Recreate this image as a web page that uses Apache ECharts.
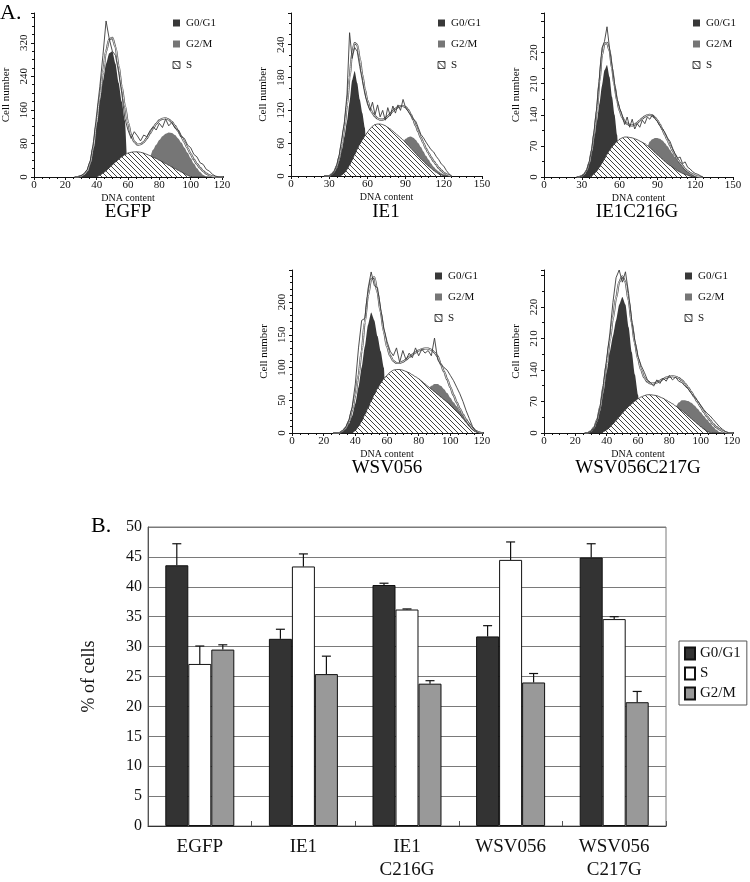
<!DOCTYPE html>
<html><head><meta charset="utf-8">
<script src="https://cdn.jsdelivr.net/npm/echarts@6/dist/echarts.min.js"></script>
<style>html,body{margin:0;padding:0;background:#fff}#c{width:750px;height:882px}</style>
</head><body><div id="c"></div>
<script>
// ---------- Panel A data (DNA content bins, cell numbers) ----------
const dnaContent = [26,28,30,32,34,36,38,40,42,44,46,48,50,52,54,56,58,60,62,64,66,68,70,72,74,76,78,80,82,84,86,88,90,92,94,96,98,100,102,104,106,108,110,112,114,116,118,120,122,124,126];

const egfpG1  = [0,0,2,5,12,30,65,125,180,228, 270,295,300,270,225,180,135,0,0,0, 0,0,0,0,0,0,0,0,0,0, 0,0,0,0,0,0,0,0,0,0, 0,0,0,0,0,0,0,0,0,0,0];
const egfpS   = [0,0,0,0,0,0,0,0,4,9, 15,22,29,36,42,48,53,57,59,60, 60,59,57,54,51,47,44,40,36,32, 28,24,20,16,12,8,4,1,0,0, 0,0,0,0,0,0,0,0,0,0,0];
const egfpG2  = [0,0,0,0,0,0,0,0,0,0, 0,0,0,0,0,0,0,0,0,0, 0,0,0,0,48,65,77,88,97,103, 106,105,100,92,82,70,58,45,32,21, 12,5,1,0,0,0,0,0,0,0,0];
const egfpFit = [0,0,2,6,14,35,72,130,190,250, 300,328,332,310,265,215,170,130,100,84, 77,78,83,92,104,116,127,135,139,140, 137,131,122,110,97,83,69,55,42,31, 22,14,8,4,1,0,0,0,0,0,0];
const egfpRaw = [0,0,3,8,18,40,85,150,215,290, 372,330,300,290,250,200,140,112,92,108, 98,86,100,96,110,120,112,128,118,138, 122,130,116,112,96,92,76,70,54,48, 34,30,18,14,6,2,0,0,0,0,0];

const ie1G1  = [0,0,0,2,6,14,28,48,72,100, 135,175,192,170,140,115,88,0,0,0, 0,0,0,0,0,0,0,0,0,0, 0,0,0,0,0,0,0,0,0,0, 0,0,0,0,0,0,0,0,0,0,0];
const ie1S   = [0,0,0,0,0,0,0,2,6,12, 20,29,39,49,58,66,73,80,86,91, 94,95,95,94,92,89,86,82,78,74, 70,66,61,56,51,46,41,36,31,27, 22,18,14,10,7,4,2,0,0,0,0];
const ie1G2  = [0,0,0,0,0,0,0,0,0,0, 0,0,0,0,0,0,0,0,0,0, 0,0,0,0,0,0,0,0,0,0, 0,62,68,71,72,70,66,60,53,45, 37,30,23,17,12,8,5,3,1,0,0];
const ie1Fit = [0,0,0,3,8,18,35,60,90,130, 180,225,243,240,215,185,158,138,124,115, 109,105,103,103,105,109,114,119,123,126, 128,128,126,121,113,103,92,81,70,60, 50,42,34,27,21,15,10,6,3,1,0];
const ie1Raw = [0,0,0,3,8,20,40,70,100,150, 262,215,235,228,200,175,150,132,120,135, 112,130,108,120,102,125,110,128,115,130, 120,140,125,118,112,104,100,88,76,70, 62,55,48,44,36,30,22,18,10,4,0];

const ie1cG1  = [0,0,2,6,14,30,55,88,125,165, 205,240,252,225,180,140,95,0,0,0, 0,0,0,0,0,0,0,0,0,0, 0,0,0,0,0,0,0,0,0,0, 0,0,0,0,0,0,0,0,0,0,0];
const ie1cS   = [0,0,0,0,0,0,3,8,14,22, 31,41,51,60,68,75,80,85,88,90, 90,89,88,86,84,81,78,75,71,66, 61,55,50,45,40,35,30,26,22,18, 14,11,8,6,4,2,0,0,0,0,0];
const ie1cG2  = [0,0,0,0,0,0,0,0,0,0, 0,0,0,0,0,0,0,0,0,0, 0,0,0,0,0,0,0,0,68,80, 85,88,88,86,82,76,69,61,53,45, 37,30,23,17,12,8,5,2,0,0,0];
const ie1cFit = [0,0,2,6,15,32,60,100,150,215, 275,300,302,285,245,205,172,150,135,125, 120,117,116,118,122,127,132,136,139,140, 138,134,127,118,107,95,83,71,60,50, 40,32,25,18,13,9,6,3,1,0,0];
const ie1cRaw = [0,0,2,7,16,35,65,110,160,225, 290,305,338,290,250,210,175,155,140,118, 135,112,130,108,120,112,128,120,135,130, 140,132,125,115,108,100,88,80,65,52, 42,45,30,34,22,18,12,8,6,3,0];

const wsvG1  = [0,0,0,2,6,14,26,45,70,100, 132,165,184,172,148,125,100,0,0,0, 0,0,0,0,0,0,0,0,0,0, 0,0,0,0,0,0,0,0,0,0, 0,0,0,0,0,0,0,0,0,0,0];
const wsvS   = [0,0,0,0,0,0,0,4,10,18, 28,38,49,59,68,76,83,88,93,96, 97,97,96,94,92,89,86,83,79,75, 71,67,63,59,55,51,47,43,38,33, 28,22,16,10,5,2,0,0,0,0,0];
const wsvG2  = [0,0,0,0,0,0,0,0,0,0, 0,0,0,0,0,0,0,0,0,0, 0,0,0,0,0,0,0,0,0,0, 66,72,75,75,72,67,61,54,47,41, 34,28,22,16,10,5,2,0,0,0,0];
const wsvFit = [0,0,0,3,8,18,35,58,88,125, 170,210,235,238,215,185,155,132,118,110, 107,107,109,112,116,120,123,126,128,129, 129,127,123,117,105,94,82,70,58,47, 37,28,20,13,7,3,1,0,0,0,0];
const wsvRaw = [0,0,0,3,9,20,40,75,130,172, 175,220,246,225,222,190,160,140,125,118, 130,108,126,112,122,115,130,118,128,122, 126,118,145,112,105,100,96,88,80,70, 60,48,34,22,10,3,0,0,0,0,0];

const wsvcG1  = [0,0,3,10,25,50,90,135,180,215, 250,285,302,285,235,180,130,85,0,0, 0,0,0,0,0,0,0,0,0,0, 0,0,0,0,0,0,0,0,0,0, 0,0,0,0,0,0,0,0,0,0,0];
const wsvcS   = [0,0,0,0,0,0,3,7,13,20, 28,36,44,52,59,65,71,76,80,83, 85,85,84,83,80,77,73,69,65,60, 55,50,44,38,32,26,20,14,9,4, 1,0,0,0,0,0,0,0,0,0,0];
const wsvcG2  = [0,0,0,0,0,0,0,0,0,0, 0,0,0,0,0,0,0,0,0,0, 0,0,0,0,0,0,0,0,0,58, 68,73,73,71,67,61,54,46,38,30, 22,14,7,2,0,0,0,0,0,0,0];
const wsvcFit = [0,0,4,12,30,60,105,155,205,255, 300,335,348,335,295,245,200,165,140,123, 114,110,110,112,116,120,123,125,126,125, 122,117,110,101,91,80,69,58,47,37, 28,20,13,8,4,1,0,0,0,0,0];
const wsvcRaw = [0,0,4,12,30,62,110,165,220,290, 345,362,335,358,310,250,205,170,150,135, 118,112,104,118,110,122,115,128,118,124, 115,112,104,98,88,80,72,62,52,44, 38,30,22,14,8,3,0,0,0,0,0];

const panelTitles = ['EGFP','IE1','IE1C216G','WSV056','WSV056C217G'];
const yTickLabels = [
  ['0','80','160','240','320'],
  ['0','60','120','180','240'],
  ['0','70','140','210','220'],
  ['0','50','100','150','200'],
  ['0','70','140','210','220']
];
const xTickLabels120 = ['0','20','40','60','80','100','120'];
const xTickLabels150 = ['0','30','60','90','120','150'];
const phaseNames = ['G0/G1','G2/M','S'];

// ---------- Panel B data ----------
const categories = ['EGFP','IE1','IE1\nC216G','WSV056','WSV056\nC217G'];
const pctG1 = [43.6, 31.3, 40.3, 31.7, 44.9];
const pctS  = [27.1, 43.4, 36.2, 44.5, 34.6];
const pctG2 = [29.5, 25.4, 23.8, 24.0, 20.7];
const errG1 = [3.6, 1.6, 0.3, 1.8, 2.3];
const errS  = [3.0, 2.1, 0.1, 3.0, 0.4];
const errG2 = [0.8, 3.0, 0.5, 1.5, 1.8];
const barTickLabels = ['0','5','10','15','20','25','30','35','40','45','50'];

// ---------- rendering ----------
const SERIF = 'Liberation Serif, Times New Roman, serif';
function hatchCanvas(size){
  const c = document.createElement('canvas'); c.width = size; c.height = size;
  const g = c.getContext('2d');
  g.fillStyle = '#fff'; g.fillRect(0,0,size,size);
  g.strokeStyle = '#2e2e2e'; g.lineWidth = 0.9;
  g.beginPath();
  for (const x0 of [-size, 0, size]) { g.moveTo(x0, 0); g.lineTo(x0 + size, size); }
  g.stroke();
  return c;
}
const hatch = hatchCanvas(5);
const hatchPattern = {image: hatch, repeat: 'repeat'};

const panels = [
  {g1:egfpG1, s:egfpS, g2:egfpG2, fit:egfpFit, raw:egfpRaw, grid:{left:34,top:13,width:188,height:164}, xMax:120, xInt:20, xMinor:4, xLabels:xTickLabels120, yMax:391, yInt:80, yMinor:4, leg:[173,23], tpos:[128,212]},
  {g1:ie1G1, s:ie1S, g2:ie1G2, fit:ie1Fit, raw:ie1Raw, grid:{left:291,top:13,width:191,height:163}, xMax:150, xInt:30, xMinor:5, xLabels:xTickLabels150, yMax:298, yInt:60, yMinor:3, leg:[438,23], tpos:[386,212]},
  {g1:ie1cG1, s:ie1cS, g2:ie1cG2, fit:ie1cFit, raw:ie1cRaw, grid:{left:544,top:13,width:189,height:164}, xMax:150, xInt:30, xMinor:5, xLabels:xTickLabels150, yMax:369, yInt:70, yMinor:2, leg:[693,23], tpos:[637,212]},
  {g1:wsvG1, s:wsvS, g2:wsvG2, fit:wsvFit, raw:wsvRaw, grid:{left:292,top:270,width:190,height:163}, xMax:120, xInt:20, xMinor:4, xLabels:xTickLabels120, yMax:249, yInt:50, yMinor:5, leg:[435,276], tpos:[387,468]},
  {g1:wsvcG1, s:wsvcS, g2:wsvcG2, fit:wsvcFit, raw:wsvcRaw, grid:{left:544,top:270,width:188,height:163}, xMax:120, xInt:20, xMinor:4, xLabels:xTickLabels120, yMax:362, yInt:70, yMinor:2, leg:[685,276], tpos:[638,468]}
];

const pairs = arr => dnaContent.map((x, i) => [x, arr[i]]);
const grids = [], xAxes = [], yAxes = [], series = [], graphics = [];

panels.forEach((p, k) => {
  grids.push(Object.assign({}, p.grid));
  xAxes.push({
    type:'value', gridIndex:k, min:0, max:p.xMax, interval:p.xInt,
    name:'DNA content', nameLocation:'middle', nameGap:16,
    nameTextStyle:{fontFamily:SERIF, fontSize:10, color:'#111'},
    axisLine:{lineStyle:{color:'#111', width:1}},
    axisTick:{length:3, lineStyle:{color:'#111'}},
    minorTick:{show:true, splitNumber:p.xMinor, length:2, lineStyle:{color:'#111'}},
    splitLine:{show:false}, minorSplitLine:{show:false},
    axisLabel:{fontFamily:SERIF, fontSize:11, color:'#111', margin:3,
      formatter: v => { const i = Math.round(v / p.xInt); return Math.abs(v - i*p.xInt) < 1e-6 && i < p.xLabels.length ? p.xLabels[i] : ''; }}
  });
  yAxes.push({
    type:'value', gridIndex:k, min:0, max:p.yMax, interval:p.yInt,
    name:'Cell number', nameLocation:'middle', nameGap:22,
    nameTextStyle:{fontFamily:SERIF, fontSize:11, color:'#111'},
    axisLine:{show:true, lineStyle:{color:'#111', width:1}},
    axisTick:{show:true, length:3, lineStyle:{color:'#111'}},
    minorTick:{show:true, splitNumber:p.yMinor, length:2, lineStyle:{color:'#111'}},
    splitLine:{show:false},
    axisLabel:{fontFamily:SERIF, fontSize:11, color:'#111', rotate:90, margin:4,
      formatter: v => { const i = Math.round(v / p.yInt); return Math.abs(v - i*p.yInt) < 1e-6 && i < yTickLabels[k].length ? yTickLabels[k][i] : ''; }}
  });
  const base = {type:'line', xAxisIndex:k, yAxisIndex:k, symbol:'none', showSymbol:false, animation:false, silent:true};
  series.push(Object.assign({}, base, {name:panelTitles[k]+' G0/G1', data:pairs(p.g1), smooth:0.2, smoothMonotone:'x', lineStyle:{width:0, color:'#383838'}, areaStyle:{color:'#383838', opacity:1}, z:2}));
  series.push(Object.assign({}, base, {name:panelTitles[k]+' G2/M', data:pairs(p.g2), smooth:0.3, smoothMonotone:'x', lineStyle:{width:0, color:'#767676'}, areaStyle:{color:'#767676', opacity:1}, z:2}));
  series.push(Object.assign({}, base, {name:panelTitles[k]+' S', data:pairs(p.s), smooth:0.3, smoothMonotone:'x', lineStyle:{width:0.8, color:'#333'}, areaStyle:{color:hatchPattern, opacity:1}, z:3}));
  series.push(Object.assign({}, base, {name:panelTitles[k]+' fit', data:pairs(p.fit), smooth:0.3, smoothMonotone:'x', lineStyle:{width:2.1, color:'#444'}, z:4}));
  series.push(Object.assign({}, base, {name:panelTitles[k]+' fit2', data:pairs(p.fit), smooth:0.3, smoothMonotone:'x', lineStyle:{width:0.8, color:'#ffffff'}, z:5}));
  series.push(Object.assign({}, base, {name:panelTitles[k]+' raw', data:pairs(p.raw), lineStyle:{width:0.9, color:'#3a3a3a'}, z:6}));

  const fills = ['#383838', '#767676', hatchPattern];
  phaseNames.forEach((nm, j) => {
    const cy = p.leg[1] + j * 21;
    graphics.push({type:'rect', x:p.leg[0], y:cy - 3.5, shape:{x:0, y:0, width:7, height:7},
      style:{fill:fills[j], stroke: j === 2 ? '#222' : null, lineWidth:0.8}, z:10});
    graphics.push({type:'text', x:p.leg[0] + 13, y:cy, style:{text:nm, font:'11px ' + SERIF, fill:'#111', textVerticalAlign:'middle', verticalAlign:'middle'}, z:10});
  });
  graphics.push({type:'text', x:p.tpos[0], y:p.tpos[1], style:{text:panelTitles[k], font:'19px ' + SERIF, fill:'#000', textAlign:'center', align:'center', textVerticalAlign:'middle', verticalAlign:'middle'}, z:10});
});

// Panel B
const bk = 5;
grids.push({left:148, top:527, width:518, height:300, show:true, borderColor:'#7a7a7a', borderWidth:1, backgroundColor:'transparent'});
xAxes.push({type:'category', gridIndex:bk, data:categories,
  axisLine:{lineStyle:{color:'#333', width:1}},
  axisTick:{show:true, inside:true, length:5, lineStyle:{color:'#555'}},
  axisLabel:{fontFamily:SERIF, fontSize:19, color:'#111', margin:10, lineHeight:23, interval:0},
  splitLine:{show:false}});
yAxes.push({type:'value', gridIndex:bk, min:0, max:50, interval:5,
  name:'% of cells', nameLocation:'middle', nameGap:50,
  nameTextStyle:{fontFamily:SERIF, fontSize:18, color:'#111'},
  axisLine:{show:true, lineStyle:{color:'#555'}},
  axisTick:{show:false},
  splitLine:{show:true, lineStyle:{color:'#7a7a7a', width:1}},
  axisLabel:{fontFamily:SERIF, fontSize:16, color:'#111', margin:6,
    formatter: v => { const i = Math.round(v / 5); return Math.abs(v - i*5) < 1e-6 ? barTickLabels[i] : ''; }}});

const barCfg = [
  {name:'G0/G1', data:pctG1, err:errG1, color:'#333333'},
  {name:'S', data:pctS, err:errS, color:'#ffffff'},
  {name:'G2/M', data:pctG2, err:errG2, color:'#999999'}
];
const BW = 0.222;
barCfg.forEach(b => {
  series.push({type:'bar', name:b.name, xAxisIndex:bk, yAxisIndex:bk, data:b.data, barWidth:(BW*100)+'%', barGap:'0%',
    itemStyle:{color:b.color, borderColor:'#111', borderWidth:1}, animation:false, z:2});
});
const errData = [];
barCfg.forEach((b, si) => b.data.forEach((v, ci) => errData.push([ci, v, b.err[ci], si])));
series.push({type:'custom', name:'err', xAxisIndex:bk, yAxisIndex:bk, data:errData, encode:{x:0, y:1}, z:5, animation:false, silent:true,
  renderItem:(params, api) => {
    const ci = api.value(0), v = api.value(1), e = api.value(2), si = api.value(3);
    const p0 = api.coord([ci, v]);
    const p1 = api.coord([ci, v + e]);
    const band = api.size([1, 0])[0];
    const x = p0[0] + (si - 1) * band * BW;
    const st = {stroke:'#111', lineWidth:1.2};
    return {type:'group', children:[
      {type:'line', shape:{x1:x, y1:p0[1], x2:x, y2:p1[1]}, style:st},
      {type:'line', shape:{x1:x - 4.5, y1:p1[1], x2:x + 4.5, y2:p1[1]}, style:st}
    ]};
  }});

graphics.push({type:'text', x:0, y:13, style:{text:'A.', font:'22px ' + SERIF, fill:'#000', textVerticalAlign:'middle', verticalAlign:'middle'}});
graphics.push({type:'text', x:91, y:526, style:{text:'B.', font:'22px ' + SERIF, fill:'#000', textVerticalAlign:'middle', verticalAlign:'middle'}});

const chart = echarts.init(document.getElementById('c'), null, {renderer:'canvas'});
chart.setOption({
  animation:false,
  backgroundColor:'#fff',
  grid:grids, xAxis:xAxes, yAxis:yAxes, series:series,
  legend:{data:['G0/G1','S','G2/M'], orient:'vertical', left:679, top:641, padding:[5,6,4,5], itemGap:5,
    itemWidth:10, itemHeight:12, icon:'rect', borderColor:'#555', borderWidth:1,
    textStyle:{fontFamily:SERIF, fontSize:15, color:'#111'}, selectedMode:false},
  graphic:graphics
});
</script></body></html>
